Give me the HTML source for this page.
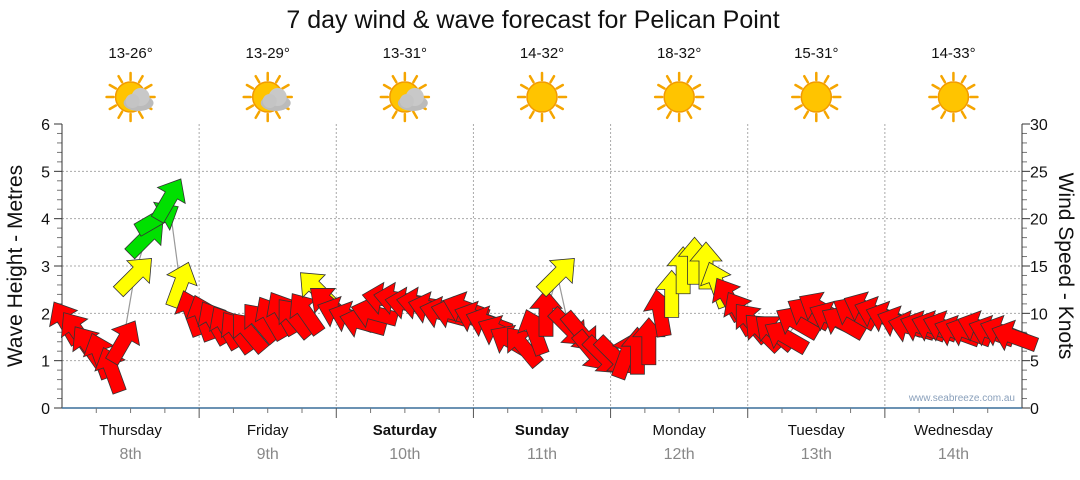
<!DOCTYPE html>
<html><head><meta charset="utf-8"><style>
body{margin:0;background:#fff;width:1080px;height:475px;overflow:hidden;font-family:"Liberation Sans",sans-serif}
</style></head><body>
<svg id="c" width="1080" height="475" font-family="Liberation Sans, sans-serif">
<text x="533" y="28" font-size="25" text-anchor="middle" fill="#111">7 day wind &amp; wave forecast for Pelican Point</text>
<g id="grid"></g><g id="axes"></g><g id="icons"></g><g id="marks"></g>
<text x="1015" y="401" font-size="10" text-anchor="end" fill="#8aa0bb">www.seabreeze.com.au</text>
<text transform="translate(22,266) rotate(-90)" font-size="21" text-anchor="middle" fill="#111">Wave Height - Metres</text>
<text transform="translate(1059,266) rotate(90)" font-size="21" text-anchor="middle" fill="#111">Wind Speed - Knots</text>
</svg>
<script>
const days=["Thursday","Friday","Saturday","Sunday","Monday","Tuesday","Wednesday"];
const dates=["8th","9th","10th","11th","12th","13th","14th"];
const temps=["13-26°","13-29°","13-31°","14-32°","18-32°","15-31°","14-33°"];
const cloudy=[1,1,1,0,0,0,0];
const waveTicks=[0,1,2,3,4,5,6];
const windTicks=[0,5,10,15,20,25,30];
const windSpeed=[9,8,6.5,5.5,4,7,14,18,20,22,13,10,
9.5,9,8.5,8,8,9,9.5,10,9.5,10,12.5,11,
10,9.5,9,10,11.5,11.5,11,11,10.5,10,10,10.5,
9.5,9,8,7,6.5,8,10,14,8.5,8,6,5.5,
5.5,5.5,6,7,10,12,14.5,15.5,15,13,11.5,10,
9,8,8,7.5,9,10,10.5,9.5,9,10,10.5,10,
9.5,9,8.5,8.5,8.5,8.5,8,8,8.5,8,8,7.5];
const windDir=[-30,-35,-35,-20,-20,30,45,45,60,30,20,-20,
-20,-30,-30,-35,-40,-40,-30,-30,-40,-35,-45,-50,
-70,-70,-75,-75,-80,-80,-80,-80,-75,-75,-75,-70,
-70,-70,-65,-60,-40,-20,0,45,135,140,140,135,
135,20,0,0,-10,0,0,0,0,-20,-30,-30,
-40,-45,-50,-60,-60,-60,-60,-65,-60,-60,-65,-70,
-70,-70,-75,-70,-70,-70,-70,-70,-70,-70,-70,-70];
const NS="http://www.w3.org/2000/svg";
const X0=62,X1=1022,Y0=408,Y1=124;
const dayW=(X1-X0)/7;
const yWave=v=>Y0-v*(Y0-Y1)/6;
const yWind=v=>Y0-v*(Y0-Y1)/30;
const xIdx=i=>X0+dayW*i/12+4;
function mk(p,t,a){const e=document.createElementNS(NS,t);for(const k in a)e.setAttribute(k,a[k]);p.appendChild(e);return e;}
const grid=document.getElementById('grid'),axes=document.getElementById('axes'),icons=document.getElementById('icons'),marks=document.getElementById('marks');
waveTicks.forEach(v=>{
 if(v>0&&v<6){const l=mk(grid,'line',{x1:X0,x2:X1,y1:yWave(v),y2:yWave(v),stroke:'#aaa','stroke-dasharray':'2,2'});
 
 }
 const t=mk(axes,'text',{x:50,y:yWave(v)+6,'font-size':16,'text-anchor':'end',fill:'#111'});t.textContent=v;
 
 
 for(let m=1;m<5&&v<6;m++)mk(axes,'line',{x1:X0-5,x2:X0,y1:yWave(v+m*0.2),y2:yWave(v+m*0.2),stroke:'#777'});
 mk(axes,'line',{x1:X0-8,x2:X0,y1:yWave(v),y2:yWave(v),stroke:'#333'});
});
windTicks.forEach(v=>{
 const t=mk(axes,'text',{x:1030,y:yWind(v)+6,'font-size':16,fill:'#111'});t.textContent=v;
 
 
 for(let m=1;m<5&&v<30;m++)mk(axes,'line',{x1:X1,x2:X1+5,y1:yWind(v+m),y2:yWind(v+m),stroke:'#777'});
 mk(axes,'line',{x1:X1,x2:X1+8,y1:yWind(v),y2:yWind(v),stroke:'#333'});
});
mk(axes,'line',{x1:X0,x2:X0,y1:Y1,y2:Y0,stroke:'#333'});
mk(axes,'line',{x1:X1,x2:X1,y1:Y1,y2:Y0,stroke:'#333'});
mk(axes,'line',{x1:X0,x2:X1,y1:Y0,y2:Y0,stroke:'#3a6e9a','stroke-width':1.5});
days.forEach((d,i)=>{
 const xa=X0+dayW*i,xc=xa+dayW/2;
 if(i>0){const g=mk(grid,'line',{x1:xa,x2:xa,y1:Y1,y2:Y0,stroke:'#aaa','stroke-dasharray':'2,2'});
 
 
 mk(axes,'line',{x1:xa,x2:xa,y1:Y0,y2:Y0+10,stroke:'#555'});}
 for(let q=1;q<4;q++)mk(axes,'line',{x1:xa+dayW*q/4,x2:xa+dayW*q/4,y1:Y0,y2:Y0+5,stroke:'#777'});
 const t=mk(axes,'text',{x:xc,y:435,'font-size':15,'text-anchor':'middle',fill:'#111','font-weight':(i==2||i==3)?'bold':'normal'});t.textContent=d;
 
 
 const dt=mk(axes,'text',{x:xc,y:459,'font-size':16,'text-anchor':'middle',fill:'#888'});dt.textContent=dates[i];
 
 
 const tt=mk(icons,'text',{x:xc,y:58,'font-size':15,'text-anchor':'middle',fill:'#111'});tt.textContent=temps[i];
 
 
 const g=mk(icons,'g',{transform:`translate(${xc},97)`});
 
 
 for(let r=0;r<12;r++){const a=r*Math.PI/6;mk(g,'line',{x1:Math.cos(a)*17,y1:Math.sin(a)*17,x2:Math.cos(a)*24,y2:Math.sin(a)*24,stroke:'#f5a500','stroke-width':2.5,'stroke-linecap':'round'});}
 mk(g,'circle',{r:15,fill:'#ffc400',stroke:'#f29a00','stroke-width':1.5});
 if(cloudy[i]){mk(g,'ellipse',{cx:8,cy:6,rx:15,ry:8,fill:'#bbb'});mk(g,'circle',{cx:10,cy:0,r:9,fill:'#c8c8c8'});mk(g,'circle',{cx:2,cy:4,r:7,fill:'#c4c4c4'});}
});
let pts=windSpeed.map((v,i)=>xIdx(i)+','+yWind(v)).join(' ');
const pl=mk(marks,'polyline',{points:pts,fill:'none',stroke:'#999','stroke-width':1.2});


const arrowPath="M0,-24 L16,-5 L7,-5 L7,23 L-7,23 L-7,-5 L-16,-5 Z";
windSpeed.forEach((v,i)=>{
 const col=v>=18?'#00e000':v>=12?'#ffff00':'#ff0000';
 const p=mk(marks,'path',{d:arrowPath,fill:col,stroke:'#333','stroke-width':0.8,transform:`translate(${xIdx(i)},${yWind(v)}) rotate(${windDir[i]})`});
 
 
});
</script>
</body></html>
